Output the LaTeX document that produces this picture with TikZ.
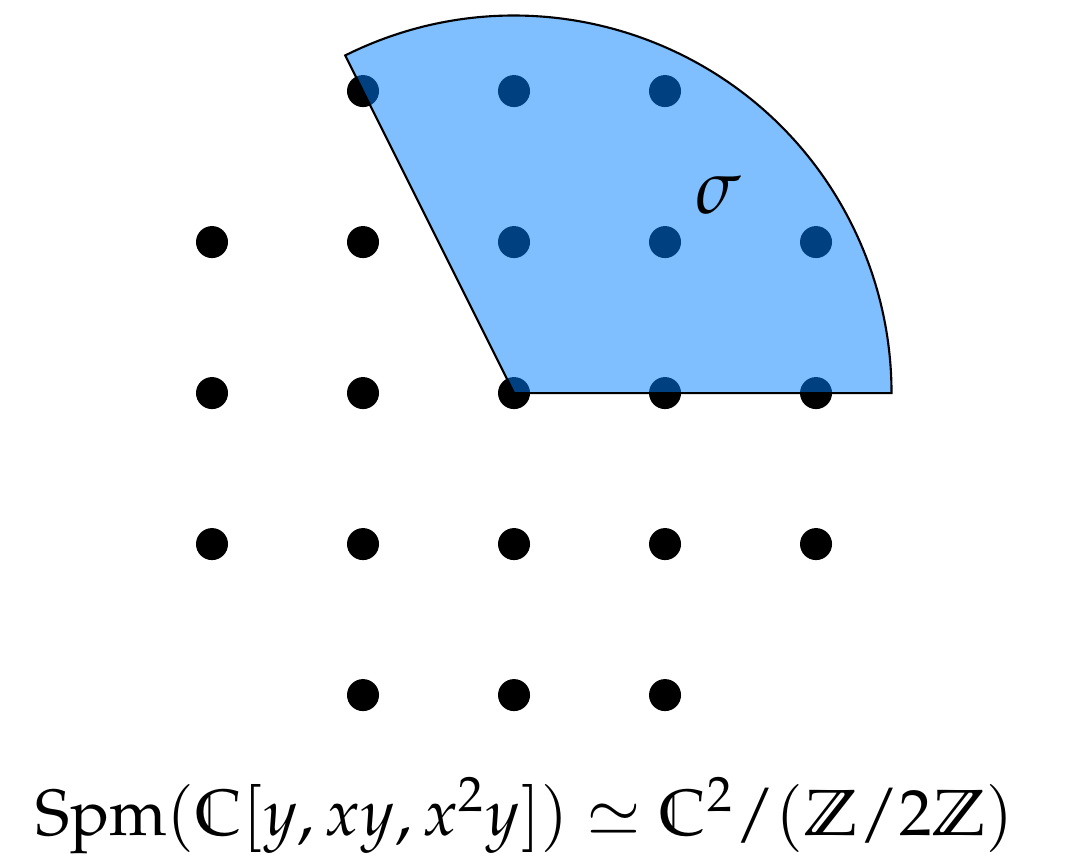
\documentclass[tikz,border=0pt]{standalone}
\usepackage[T1]{fontenc}
\usepackage{mathpazo}
\usepackage{tikz}

\begin{document}
\begin{tikzpicture}[scale=1]
  \pgfmathsetmacro{\r}{2.5}              % cone radius
  \pgfmathsetmacro{\a}{atan2(2,-1)}      % angle of the ray through (-1,2)

  \tikzset{
    lattice pt/.style={circle, fill=black, inner sep=0pt, minimum size=0.212cm},
    cone fill/.style={fill={rgb,255:red,0;green,127;blue,255}, fill opacity=0.5, draw=black, line width=0.4pt},
  }

  \newcommand{\drawlatticerow}[2]{
    \foreach \i in {#2} {
      \node[lattice pt] (P\i#1) at (\i,#1) {};
    }
  }

  \useasboundingbox (-3.404,-3.119) rectangle (3.682,2.603);

  % lattice points
  \drawlatticerow{2}{-1,0,1};
  \drawlatticerow{1}{-2,-1,0,1,2};
  \drawlatticerow{0}{-2,-1,0,1,2};
  \drawlatticerow{-1}{-2,-1,0,1,2};
  \drawlatticerow{-2}{-1,0,1};

  % the cone sigma
  \coordinate (O) at (0,0);
  \coordinate (E) at (\a:\r);
  \draw[cone fill] (O) -- (E) arc[start angle=\a, end angle=0, radius=\r] -- cycle;
  \node (sigma) at (1.351,1.31) {\Large $\sigma$};

  \node[anchor=base] (spm) at (0.073,-2.927)
    {\fontsize{12.3}{15}\selectfont $\mathrm{Spm}(\mathbb{C}[y,xy,x^2y])\simeq\mathbb{C}^2/(\mathbb{Z}/2\mathbb{Z})$};
\end{tikzpicture}
\end{document}
